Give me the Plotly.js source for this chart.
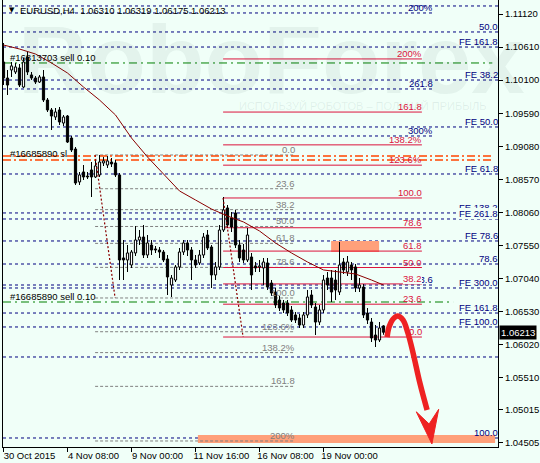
<!DOCTYPE html>
<html><head><meta charset="utf-8">
<script src="https://cdn.plot.ly/plotly-3.0.1.min.js"></script>
<style>html,body{margin:0;padding:0;background:#F0FFF8;}#chart{width:540px;height:463px;}</style>
</head><body><div id="chart"></div>
<script>
// ---- DATA (EURUSD H4, bar index 0 = 30 Oct 2015 16:00) ----
const openP  = [1.10380,1.10133,1.10257,1.10226,1.10288,1.09994,1.10457,1.10180,1.10133,1.10071,1.10149,1.09794,1.09640,1.09532,1.09640,1.09439,1.09547,1.09208,1.09038,1.08530,1.08684,1.08622,1.08715,1.08607,1.08638,1.08823,1.08792,1.08838,1.08823,1.08638,1.07358,1.07327,1.07250,1.07435,1.07635,1.07681,1.07404,1.07558,1.07497,1.07481,1.07450,1.07342,1.06941,1.07018,1.07219,1.07450,1.07589,1.07481,1.07327,1.07281,1.07404,1.07712,1.07527,1.07096,1.07219,1.07789,1.08129,1.07975,1.08052,1.07558,1.07481,1.07327,1.07373,1.07235,1.07219,1.07204,1.07281,1.06972,1.06833,1.06710,1.06664,1.06664,1.06556,1.06479,1.06432,1.06324,1.06479,1.06787,1.06602,1.06370,1.06556,1.07049,1.07049,1.07018,1.06833,1.07296,1.07142,1.07250,1.07219,1.06895,1.06910,1.06509,1.06370,1.06170,1.06093,1.06310];
const highP  = [1.10673,1.10257,1.10380,1.10365,1.10349,1.10442,1.10534,1.10226,1.10164,1.10180,1.10257,1.09825,1.09671,1.09671,1.09686,1.09563,1.09563,1.09239,1.09069,1.08684,1.08792,1.08684,1.08838,1.08869,1.08946,1.08915,1.08931,1.08900,1.08869,1.08669,1.07635,1.07558,1.07481,1.07851,1.07789,1.07867,1.07712,1.07635,1.07543,1.07527,1.07481,1.07404,1.07096,1.07250,1.07512,1.07635,1.07635,1.07527,1.07404,1.07481,1.07743,1.07789,1.07558,1.07296,1.07867,1.08298,1.08175,1.08067,1.08098,1.07635,1.07574,1.07820,1.07435,1.07296,1.07327,1.07358,1.07358,1.07018,1.06895,1.06772,1.06710,1.06710,1.06618,1.06525,1.06494,1.06525,1.06864,1.06864,1.06664,1.06633,1.07096,1.07142,1.07173,1.07173,1.07604,1.07358,1.07389,1.07296,1.07265,1.07049,1.06957,1.06587,1.06432,1.06324,1.06370,1.06319];
const lowP   = [1.10025,1.09871,1.10149,1.10195,1.09994,1.09979,1.10180,1.10102,1.10040,1.10056,1.09763,1.09609,1.09331,1.09486,1.09409,1.09393,1.09131,1.08992,1.08483,1.08483,1.08560,1.08576,1.08298,1.08591,1.08607,1.08777,1.08746,1.08761,1.08607,1.07018,1.07018,1.07142,1.07204,1.07389,1.07558,1.07358,1.07358,1.07404,1.07435,1.07358,1.07296,1.06787,1.06756,1.06988,1.07173,1.07404,1.07389,1.07018,1.07204,1.07250,1.07358,1.07481,1.06895,1.07018,1.07173,1.07758,1.07820,1.07758,1.07512,1.07296,1.07281,1.07296,1.06864,1.07142,1.07142,1.06941,1.06864,1.06772,1.06587,1.06540,1.06509,1.06463,1.06370,1.06355,1.06278,1.06278,1.06432,1.06587,1.06170,1.06324,1.06509,1.06864,1.06679,1.06710,1.06787,1.07111,1.07080,1.07018,1.06833,1.06833,1.06432,1.06340,1.06062,1.05985,1.06062,1.06175];
const closeP = [1.10133,1.10025,1.10319,1.10303,1.10025,1.10380,1.10226,1.10133,1.10071,1.10149,1.09794,1.09640,1.09547,1.09609,1.09455,1.09532,1.09146,1.09023,1.08514,1.08638,1.08607,1.08607,1.08607,1.08777,1.08838,1.08854,1.08854,1.08808,1.08638,1.07327,1.07327,1.07435,1.07450,1.07635,1.07681,1.07404,1.07589,1.07481,1.07481,1.07450,1.07327,1.07065,1.07049,1.07219,1.07450,1.07589,1.07481,1.07327,1.07250,1.07404,1.07681,1.07512,1.07096,1.07219,1.07789,1.08098,1.07867,1.07836,1.07558,1.07358,1.07327,1.07712,1.07096,1.07204,1.07235,1.07296,1.06910,1.06818,1.06633,1.06587,1.06556,1.06509,1.06401,1.06401,1.06324,1.06479,1.06756,1.06633,1.06370,1.06556,1.07018,1.06941,1.06833,1.06864,1.07250,1.07173,1.07296,1.07173,1.06895,1.06941,1.06479,1.06401,1.06124,1.06093,1.06278,1.06213];

const xTickIdx  = [0,16,32,48,64,80];
const xTickText = ['30 Oct 2015','4 Nov 08:00','9 Nov 00:00','11 Nov 16:00','16 Nov 08:00','19 Nov 00:00'];
const yTicks = [1.11120,1.10610,1.10100,1.09590,1.09080,1.08570,1.08060,1.07550,1.07040,1.06530,1.06020,1.05510,1.05015,1.04505];

// moving average (read every 4 bars)
const maIdx = [0,4,8,12,16,20,24,28,32,36,40,44,48,52,56,60,64,68,72,76,80,84,88,92,95];
const maVal = [1.10642,1.10580,1.10503,1.10365,1.10210,1.09994,1.09794,1.09563,1.09208,1.08915,1.08653,1.08391,1.08252,1.08113,1.08005,1.07913,1.07774,1.07589,1.07435,1.07296,1.07173,1.07142,1.07111,1.07018,1.06941];

// Fibonacci retracements
const fibRatios = [0,23.6,38.2,50,61.8,78.6,100,123.6,138.2,161.8,200];
const fibLabels = ['0.0','23.6','38.2','50.0','61.8','78.6','100.0','123.6%','138.2%','161.8','200%'];
const grayFibBars = [22.9, 27.9, 72.9];      // anchor 0%, anchor 100%, end of levels
const grayFibPrices = [1.08946, 1.06741];    // 0% , 100%
const redFibBars = [54.9, 59.9, 104.6];      // anchor 100%, anchor 0%, end of levels
const redFibPrices = [1.06139, 1.08283];     // 0% , 100%

// Fibo expansion levels (full width)
const feLevels = [1.11244,1.10843,1.10611,1.10102,1.09378,1.08653,1.08052,1.07959,1.07620,1.07265,1.06895,1.06509,1.06294,1.05831,1.04582];
const feLabels = ['FE 200.0','50.0','FE 161.8','FE 38.2','FE 50.0','FE 61.8','FE 138.2','FE 261.8','FE 78.6','78.6','FE 300.0','FE 161.8','FE 100.0','','100.0'];
// second expansion set (ends at bar 107.4)
const fe2Levels = [1.11136,1.09964,1.09239,1.06941];
const fe2Labels = ['200%','261.8','300%','123.6'];
const fe2End = 107.4;

// trade lines
const sellLevels = [1.10365, 1.06679];
const sellLabels = ['#16813703 sell 0.10', '#16685890 sell 0.10'];
const sellEnds = [122.2, 112.4];
const slLevels = [1.08931, 1.08869];
const slLabel = '#16685890 sl';
const slEnd = 122.2;

// target zones
const zoneBar0 = [81.9, 48.6];
const zoneBar1 = [93.9, 122.9];
const zoneLow  = [1.07450, 1.04505];
const zoneHigh = [1.07620, 1.04628];

// forecast arrow
const arrowBars   = [95.9, 96.4, 97.4, 98.6, 99.9, 101.1, 102.4, 104.1, 105.9];
const arrowPrices = [1.06139,1.06294,1.06417,1.06463,1.06401,1.06201,1.05892,1.05430,1.05014];
const headBars    = [103.2, 107.1, 108.8, 106.4, 103.2];
const headPrices  = [1.04985, 1.04490, 1.05025, 1.04798, 1.04985];

const headerText = 'EURUSD,H4\u00a0 1.06310 1.06319 1.06175 1.06213';

// ---- DRAWING ----
const F = 'Liberation Sans, Arial, sans-serif';
const BG = '#F0FFF8';
const NAVY = '#000080', GRAY = '#808080', RED = '#DC143C', GREEN = '#008000', ORANGE = '#FF4500';
const shapes = [], ann = [];
function hline(xref, x0, x1, y, color, dash, width) {
  shapes.push({type:'line', layer:'below', xref:xref, yref:'y', x0:x0, x1:x1, y0:y, y1:y, line:{color:color, width:width||1, dash:dash}});
}
function tag(text, xref, x, y, color, extra) {
  ann.push(Object.assign({text:text, xref:xref, x:x, xanchor:'right', yref:'y', y:y, yanchor:'bottom', showarrow:false,
    borderpad:0, borderwidth:0, font:{family:F, size:9.5, color:color}}, extra||{}));
}

// watermark first (annotations drawn in order)
ann.push({text:'RoboForex', xref:'paper', yref:'paper', x:0.543, y:0.99, xanchor:'center', yanchor:'top', showarrow:false,
  font:{family:'Liberation Sans Narrow, Liberation Sans, Arial', size:96, weight:'bold', color:'rgba(40,80,80,0.065)'}});
ann.push({text:'ИСПОЛЬЗУЙ РОБОТОВ – ПОЛУЧАЙ ПРИБЫЛЬ', xref:'paper', yref:'paper', x:0.727, y:0.763, xanchor:'center', yanchor:'middle', showarrow:false,
  font:{family:F, size:11, color:'rgba(40,80,80,0.09)'}});

// zones
for (let k = 0; k < zoneBar0.length; k++) {
  shapes.push({type:'rect', layer:'below', xref:'x', yref:'y', x0:zoneBar0[k], x1:zoneBar1[k], y0:zoneLow[k], y1:zoneHigh[k], fillcolor:'#FFA07A', line:{width:0}});
}
// FE lines
feLevels.forEach((v,k) => {
  hline('paper', 0, 1, v, NAVY, '3px,3px');
  if (feLabels[k]) {
    const extra = feLabels[k] === 'FE 261.8' ? {bgcolor:BG} : (k === 0 ? {yshift:5} : {});
    tag(feLabels[k], 'paper', 1, v, NAVY, extra);
  }
});
fe2Levels.forEach((v,k) => {
  hline('x', -0.125, fe2End, v, NAVY, '3px,3px');
  tag(fe2Labels[k], 'x', fe2End, v, NAVY);
});
// gray fib
fibRatios.forEach((r,k) => {
  const v = grayFibPrices[0] + (grayFibPrices[1]-grayFibPrices[0]) * r/100;
  hline('x', grayFibBars[0], grayFibBars[2], v, GRAY, '3px,2px');
  tag(fibLabels[k], 'x', grayFibBars[2], v, GRAY);
});
// red fib
fibRatios.forEach((r,k) => {
  const v = redFibPrices[0] + (redFibPrices[1]-redFibPrices[0]) * r/100;
  hline('x', redFibBars[0], redFibBars[2], v, RED, 'solid');
  tag(fibLabels[k], 'x', redFibBars[2], v, RED, fibLabels[k] === '38.2' ? {bgcolor:BG} : {});
});
// trade lines
sellLevels.forEach((v,k) => {
  hline('x', -0.125, sellEnds[k], v, GREEN, '8px,4px,2px,4px');
  tag(sellLabels[k], 'paper', 0, v, '#000', {xanchor:'left', xshift:7});
});
slLevels.forEach(v => hline('x', -0.125, slEnd, v, ORANGE, '8px,3px,2px,3px', 1.5));
tag(slLabel, 'paper', 0, slLevels[0], '#000', {xanchor:'left', xshift:7, yanchor:'middle', yshift:2});

// header
ann.push({text:'▼', xref:'paper', yref:'paper', x:0, y:1, xanchor:'left', yanchor:'top', xshift:4, yshift:-4, showarrow:false,
  font:{family:'DejaVu Sans', size:7, color:'#000'}});
ann.push({text:headerText, xref:'paper', yref:'paper', x:0, y:1, xanchor:'left', yanchor:'top', xshift:15, yshift:-3, showarrow:false,
  font:{family:F, size:9.5, color:'#000'}});
// current price box
ann.push({text:closeP[closeP.length-1].toFixed(5), xref:'paper', x:1, xanchor:'left', xshift:1, yref:'y', y:closeP[closeP.length-1], yanchor:'middle',
  showarrow:false, bgcolor:'#000', borderpad:1, font:{family:F, size:9.5, color:'#fff'}});

const idx = openP.map((_, i) => i);
const wicks = {type:'bar', x:idx, base:lowP, y:highP.map((h,i)=>h-lowP[i]), width:0.25,
  marker:{color:'#000', line:{width:0}}, hoverinfo:'skip'};
const bodies = {type:'bar', x:idx, base:openP.map((o,i)=>Math.min(o,closeP[i])),
  y:openP.map((o,i)=>Math.max(Math.abs(closeP[i]-o), 0.00004)), width:0.55,
  marker:{color:closeP.map((c,i)=> c >= openP[i] ? '#FFFFFF' : '#000000'), line:{color:'#000', width:1}}, hoverinfo:'skip'};
const ma = {type:'scatter', mode:'lines', x:maIdx, y:maVal, line:{color:'#8B0000', width:1}, hoverinfo:'skip'};
const diagGray = {type:'scatter', mode:'lines', x:[grayFibBars[0], grayFibBars[1]], y:[grayFibPrices[0], grayFibPrices[1]],
  line:{color:'#8B0000', width:1.2, dash:'2px,2px'}, hoverinfo:'skip'};
const diagRed = {type:'scatter', mode:'lines', x:[redFibBars[0], redFibBars[1]], y:[redFibPrices[1], redFibPrices[0]],
  line:{color:'#8B0000', width:1.2, dash:'2px,2px'}, hoverinfo:'skip'};
const arrow = {type:'scatter', mode:'lines', x:arrowBars, y:arrowPrices, line:{color:'#EE2222', width:5.5, shape:'spline'}, hoverinfo:'skip'};
const head = {type:'scatter', mode:'lines', x:headBars, y:headPrices, fill:'toself', fillcolor:'#EE2222', line:{color:'#EE2222', width:1}, hoverinfo:'skip'};

const layout = {
  width:540, height:463, margin:{l:3, r:42, t:0, b:16, pad:0},
  paper_bgcolor:BG, plot_bgcolor:BG, barmode:'overlay', showlegend:false,
  xaxis:{range:[-0.125,123.625], tickvals:xTickIdx, ticktext:xTickText, ticks:'outside', ticklen:4, tickcolor:'#000',
    showline:true, linecolor:'#000', linewidth:1, showgrid:false, zeroline:false, ticklabelshift:26, ticklabelstandoff:-4,
    tickfont:{family:F, size:9.5, color:'#000'}},
  yaxis:{side:'right', range:[1.04443,1.11336], tickvals:yTicks, tickformat:'.5f', ticks:'outside', ticklen:4, tickcolor:'#000',
    showline:true, mirror:true, linecolor:'#000', linewidth:1, showgrid:false, zeroline:false,
    tickfont:{family:F, size:9.5, color:'#000'}},
  shapes:shapes, annotations:ann
};
Plotly.newPlot('chart', [wicks, bodies, ma, diagGray, diagRed, arrow, head], layout, {staticPlot:true, displayModeBar:false});
</script>
</body></html>
